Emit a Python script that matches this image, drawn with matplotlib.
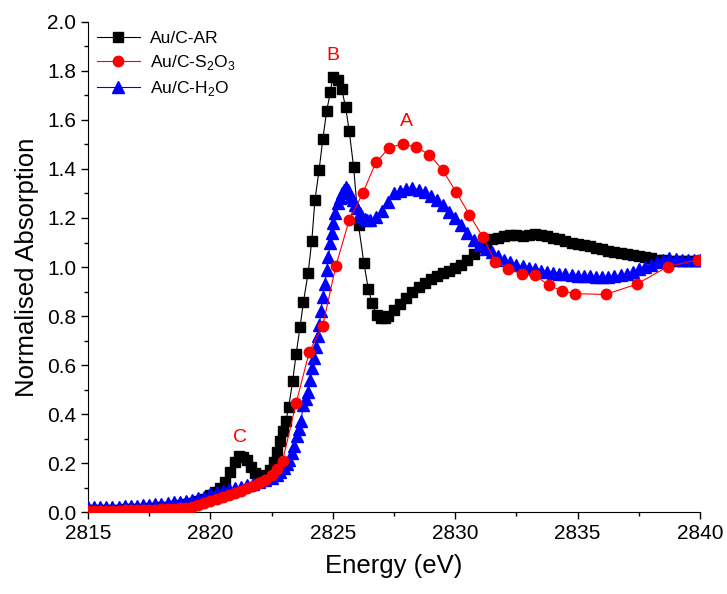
import matplotlib
matplotlib.use('Agg')
import matplotlib.pyplot as plt
from matplotlib.ticker import MultipleLocator, FormatStrFormatter

plt.rcParams['font.family'] = ['Liberation Sans', 'DejaVu Sans']
plt.rcParams['mathtext.fontset'] = 'custom'
plt.rcParams['mathtext.rm'] = 'Liberation Sans'

# Au/C-AR (black squares)
e_ar = [2815.0, 2815.25, 2815.5, 2815.75, 2816.0, 2816.25, 2816.5, 2816.75, 2817.0, 2817.25,
        2817.5, 2817.75, 2818.0, 2818.25, 2818.5, 2818.75, 2819.0, 2819.25, 2819.5, 2819.75,
        2820.0, 2820.2, 2820.4, 2820.6, 2820.8, 2821.0, 2821.18, 2821.34, 2821.5, 2821.65,
        2821.82, 2822.03, 2822.23, 2822.43, 2822.6, 2822.73, 2822.85, 2822.97, 2823.08, 2823.2,
        2823.36, 2823.5, 2823.66, 2823.8, 2823.99, 2824.14, 2824.27, 2824.44, 2824.59, 2824.75,
        2824.9, 2824.99, 2825.2, 2825.36, 2825.52, 2825.67, 2825.85, 2826.05, 2826.27, 2826.45,
        2826.61, 2826.79, 2826.95, 2827.13, 2827.25, 2827.5, 2827.75, 2828.0, 2828.25, 2828.5,
        2828.75, 2829.0, 2829.25, 2829.5, 2829.75, 2830.0, 2830.25, 2830.5, 2830.75, 2831.0,
        2831.25, 2831.5, 2831.75, 2832.0, 2832.25, 2832.5, 2832.75, 2833.0, 2833.25, 2833.5,
        2833.75, 2834.0, 2834.25, 2834.5, 2834.75, 2835.0, 2835.25, 2835.5, 2835.75, 2836.0,
        2836.25, 2836.5, 2836.75, 2837.0, 2837.25, 2837.5, 2837.75, 2838.0, 2838.25, 2838.5,
        2838.75, 2839.0, 2839.25, 2839.5, 2839.75, 2840.0]
a_ar = [0.008, 0.008, 0.009, 0.009, 0.010, 0.010, 0.011, 0.012, 0.013, 0.014,
        0.015, 0.017, 0.019, 0.021, 0.024, 0.028, 0.032, 0.037, 0.045, 0.055,
        0.070, 0.083, 0.097, 0.124, 0.165, 0.205, 0.230, 0.226, 0.212, 0.185,
        0.160, 0.145, 0.150, 0.171, 0.205, 0.245, 0.290, 0.330, 0.370, 0.430,
        0.535, 0.644, 0.754, 0.858, 0.974, 1.106, 1.273, 1.396, 1.521, 1.638,
        1.713, 1.775, 1.765, 1.727, 1.654, 1.555, 1.407, 1.170, 1.015, 0.910,
        0.852, 0.804, 0.790, 0.790, 0.800, 0.825, 0.850, 0.875, 0.900, 0.920,
        0.935, 0.950, 0.965, 0.975, 0.985, 0.995, 1.010, 1.030, 1.055, 1.080,
        1.100, 1.115, 1.120, 1.125, 1.130, 1.130, 1.128, 1.130, 1.135, 1.130,
        1.125, 1.120, 1.115, 1.105, 1.100, 1.095, 1.090, 1.085, 1.078, 1.072,
        1.066, 1.062, 1.058, 1.055, 1.050, 1.045, 1.040, 1.035, 1.030, 1.028,
        1.026, 1.025, 1.024, 1.024, 1.023, 1.023]

# Au/C-S2O3 (red circles)
e_s2o3 = [2815.0, 2815.25, 2815.5, 2815.75, 2816.0, 2816.25, 2816.5, 2816.75, 2817.0, 2817.25,
          2817.5, 2817.75, 2818.0, 2818.25, 2818.5, 2818.75, 2819.0, 2819.25, 2819.5, 2819.75,
          2820.0, 2820.25, 2820.5, 2820.75, 2821.0, 2821.25, 2821.5, 2821.75, 2822.0, 2822.25,
          2822.5, 2822.7, 2822.95, 2823.5, 2824.04, 2824.58, 2825.13, 2825.67, 2826.22, 2826.76,
          2827.31, 2827.85, 2828.4, 2828.94, 2829.49, 2830.03, 2830.58, 2831.12, 2831.63, 2832.17,
          2832.72, 2833.27, 2833.81, 2834.36, 2834.9, 2836.14, 2837.41, 2838.67, 2839.9]
a_s2o3 = [0.005, 0.005, 0.005, 0.006, 0.006, 0.006, 0.007, 0.007, 0.008, 0.008,
          0.009, 0.010, 0.011, 0.012, 0.014, 0.016, 0.018, 0.022, 0.028, 0.036,
          0.045, 0.053, 0.060, 0.068, 0.077, 0.087, 0.097, 0.107, 0.118, 0.132,
          0.150, 0.175, 0.210, 0.444, 0.654, 0.759, 1.006, 1.192, 1.301, 1.427,
          1.487, 1.502, 1.489, 1.459, 1.395, 1.307, 1.213, 1.124, 1.022, 0.993,
          0.971, 0.967, 0.925, 0.903, 0.891, 0.888, 0.930, 1.001, 1.030]

# Au/C-H2O (blue triangles)
e_h2o = [2815.0, 2815.25, 2815.5, 2815.75, 2816.0, 2816.25, 2816.5, 2816.75, 2817.0, 2817.25,
         2817.5, 2817.75, 2818.0, 2818.25, 2818.5, 2818.75, 2819.0, 2819.25, 2819.5, 2819.75,
         2820.0, 2820.25, 2820.5, 2820.75, 2821.0, 2821.25, 2821.5, 2821.75, 2822.0, 2822.25,
         2822.5, 2822.7, 2822.85, 2823.0, 2823.12, 2823.22, 2823.32, 2823.42, 2823.52, 2823.6,
         2823.69, 2823.8, 2823.9, 2824.0, 2824.07, 2824.14, 2824.22, 2824.31, 2824.38, 2824.45,
         2824.52, 2824.58, 2824.67, 2824.75, 2824.82, 2824.89, 2824.95, 2825.02, 2825.1, 2825.2,
         2825.28, 2825.36, 2825.44, 2825.52, 2825.6, 2825.68, 2825.76, 2825.84, 2825.92, 2826.0,
         2826.1, 2826.2, 2826.3, 2826.4, 2826.5, 2826.75, 2827.0, 2827.25, 2827.5, 2827.75,
         2828.0, 2828.25, 2828.5, 2828.75, 2829.0, 2829.25, 2829.5, 2829.75, 2830.0, 2830.25,
         2830.5, 2830.75, 2831.0, 2831.25, 2831.5, 2831.75, 2832.0, 2832.25, 2832.5, 2832.75,
         2833.0, 2833.25, 2833.5, 2833.75, 2834.0, 2834.25, 2834.5, 2834.75, 2835.0, 2835.25,
         2835.5, 2835.75, 2836.0, 2836.25, 2836.5, 2836.75, 2837.0, 2837.25, 2837.5, 2837.75,
         2838.0, 2838.25, 2838.5, 2838.75, 2839.0, 2839.25, 2839.5, 2839.75, 2840.0]
a_h2o = [0.020, 0.020, 0.021, 0.021, 0.022, 0.022, 0.023, 0.024, 0.026, 0.027,
         0.029, 0.031, 0.034, 0.036, 0.039, 0.042, 0.046, 0.050, 0.056, 0.063,
         0.072, 0.080, 0.087, 0.093, 0.099, 0.104, 0.110, 0.115, 0.122, 0.130,
         0.140, 0.150, 0.163, 0.178, 0.195, 0.213, 0.240, 0.270, 0.310, 0.340,
         0.370, 0.435, 0.460, 0.490, 0.540, 0.586, 0.630, 0.675, 0.720, 0.763,
         0.820, 0.879, 0.930, 0.988, 1.040, 1.097, 1.140, 1.178, 1.220, 1.260,
         1.280, 1.300, 1.315, 1.325, 1.315, 1.300, 1.285, 1.273, 1.255, 1.240,
         1.220, 1.205, 1.195, 1.190, 1.190, 1.205, 1.230, 1.265, 1.300, 1.310,
         1.320, 1.322, 1.315, 1.305, 1.290, 1.275, 1.253, 1.225, 1.198, 1.170,
         1.140, 1.110, 1.090, 1.075, 1.060, 1.045, 1.030, 1.020, 1.010, 1.003,
         0.995, 0.990, 0.985, 0.981, 0.977, 0.973, 0.970, 0.967, 0.965, 0.963,
         0.962, 0.960, 0.959, 0.960, 0.962, 0.967, 0.972, 0.980, 0.990, 1.000,
         1.010, 1.020, 1.030, 1.035, 1.033, 1.030, 1.030, 1.030, 1.029]

fig = plt.figure(figsize=(7.27, 5.94), dpi=100)
ax = fig.add_axes([0.121, 0.138, 0.842, 0.825])

ax.plot(e_ar, a_ar, color='black', marker='s', ms=6.5, lw=0.8, label='Au/C-AR', zorder=3)
ax.plot(e_h2o, a_h2o, color='blue', marker='^', ms=8, lw=0.8,
        label='Au/C-H$_2$O', zorder=4)
ax.plot(e_s2o3, a_s2o3, color='red', marker='o', ms=7.5, lw=0.8,
        label='Au/C-S$_2$O$_3$', zorder=5)

ax.text(2825.0, 1.83, 'B', color='red', fontsize=14, ha='center', va='bottom')
ax.text(2828.0, 1.56, 'A', color='red', fontsize=14, ha='center', va='bottom')
ax.text(2821.2, 0.27, 'C', color='red', fontsize=14, ha='center', va='bottom')

ax.set_xlim(2815, 2840)
ax.set_ylim(0, 2.0)
ax.xaxis.set_major_locator(MultipleLocator(5))
ax.xaxis.set_minor_locator(MultipleLocator(2.5))
ax.yaxis.set_major_locator(MultipleLocator(0.2))
ax.yaxis.set_minor_locator(MultipleLocator(0.1))
ax.yaxis.set_major_formatter(FormatStrFormatter('%.1f'))
ax.tick_params(which='major', direction='out', length=5, width=1, labelsize=15)
ax.tick_params(which='minor', direction='out', length=3, width=1)
ax.spines['top'].set_visible(False)
ax.spines['right'].set_visible(False)

ax.set_xlabel('Energy (eV)', fontsize=18.5, labelpad=8)
ax.set_ylabel('Normalised Absorption', fontsize=18.5, labelpad=6)

h, l = ax.get_legend_handles_labels()
order = [0, 2, 1]
ax.legend([h[i] for i in order], [l[i] for i in order], loc='upper left',
          frameon=False, fontsize=12.5, handlelength=2.5, borderaxespad=0.1,
          labelspacing=0.4, handletextpad=0.6, bbox_to_anchor=(0.0, 1.0))

fig.savefig('out.png', dpi=100)
